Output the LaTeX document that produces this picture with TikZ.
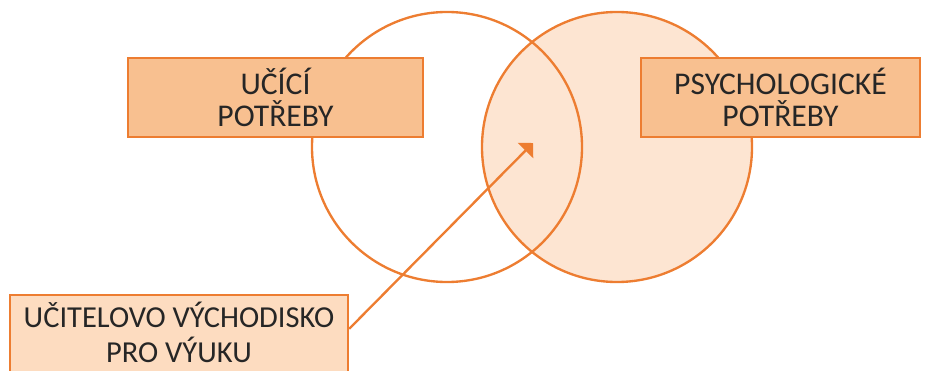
\documentclass[tikz,border=0pt]{standalone}
\usepackage{fontspec}
\setmainfont{Carlito}
\usetikzlibrary{arrows.meta}
\definecolor{lineorange}{HTML}{ED7D31}
\definecolor{boxorange}{HTML}{F8C090}
\definecolor{lightorange}{HTML}{FDDCC0}
\definecolor{paleorange}{HTML}{FDE5D2}
\begin{document}
\begin{tikzpicture}[
    x=0.03cm, y=-0.03cm,
    >={Triangle[length=0.32cm, width=0.64cm]},
    ring/.style={draw=lineorange, line width=2pt},
    box/.style={draw=lineorange, line width=2pt, rectangle, inner sep=0pt, align=center, font=\fontsize{27}{28}\selectfont, text=black!85},
    needbox/.style={box, fill=boxorange, minimum height=2.37cm},
    hintbox/.style={box, fill=lightorange, minimum width=10.14cm, minimum height=2.55cm, font=\fontsize{26}{28}\selectfont}
]
    \useasboundingbox (0,0) rectangle (931,371);

    % Circles
    \node[ring, circle, fill=paleorange, minimum size=8.1cm] (psych_c) at (617,147) {};
    \node[ring, circle, minimum size=8.1cm] (learn_c) at (447,147) {};

    % Needs
    \node[needbox, minimum width=8.85cm] (learn) at (275.5,97.5) {UČÍCÍ\\POTŘEBY};
    \node[needbox, minimum width=8.37cm] (psych) at (780.5,97.5) {PSYCHOLOGICKÉ\\POTŘEBY};

    % Teacher's view
    \node[hintbox] (hint) at (179,337.5) {\begin{tabular}{@{}c@{}}UČITELOVO VÝCHODISKO\\PRO VÝUKU\end{tabular}};
    \coordinate (overlap) at (533,143);
    \draw[->, draw=lineorange, fill=lineorange, line width=2pt] ([yshift=-1.05cm]hint.north east) -- (overlap);

\end{tikzpicture}
\end{document}
